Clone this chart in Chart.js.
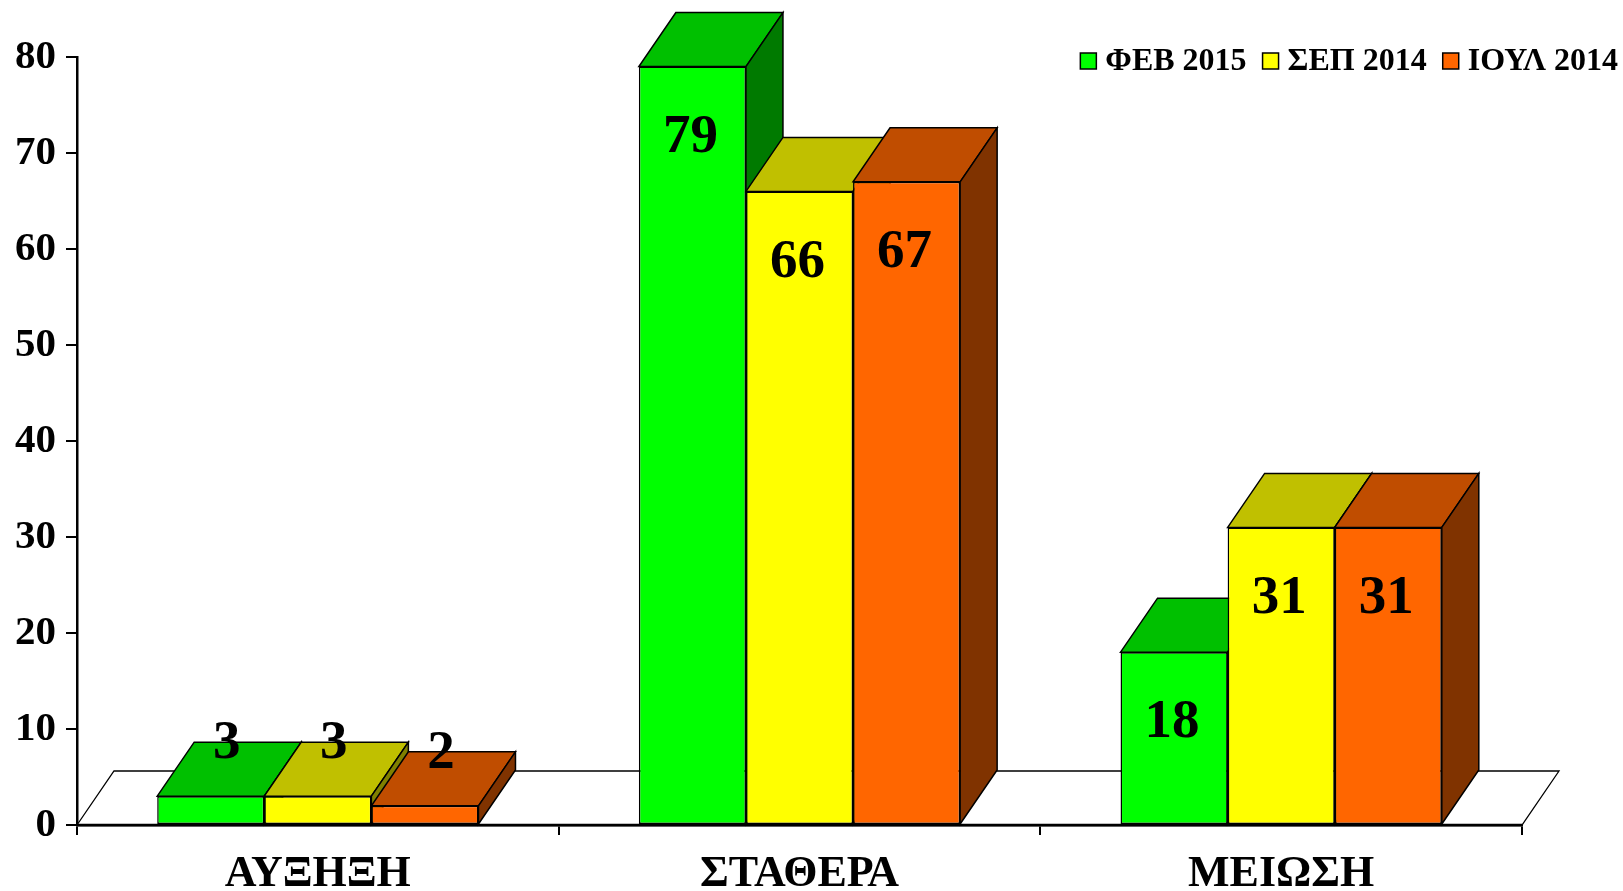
<!DOCTYPE html>
<html>
<head>
<meta charset="utf-8">
<script src="https://cdn.jsdelivr.net/npm/chart.js@4.4.0/dist/chart.umd.min.js"></script>
<style>
body{margin:0;background:#fff;}
#grafica{display:block;}
</style>
</head>
<body>
<canvas id="grafica" width="1623" height="891"></canvas>
<script>
var categorias = ["ΑΥΞΗΞΗ","ΣΤΑΘΕΡΑ","ΜΕΙΩΣΗ"];
var series = ["ΦΕΒ 2015","ΣΕΠ 2014","ΙΟΥΛ 2014"];
var feb2015 = [3,79,18];
var sep2014 = [3,66,31];
var ioul2014 = [2,67,31];
var ticksY = [0,10,20,30,40,50,60,70,80];

// frente, tapa, lado
var colores = [
    ["#00ff00","#00c000","#007a00"],
    ["#ffff00","#c0c000","#808000"],
    ["#ff6600","#c04d00","#803300"]
];

var FUENTE = "'Liberation Serif','Times New Roman',serif";
var PX = 37, PY = 54;   // profundidad 3D

document.addEventListener("DOMContentLoaded",function(){
    grafica();
});

function cara(ctx, puntos, color){
    ctx.beginPath();
    ctx.moveTo(puntos[0][0],puntos[0][1]);
    for (var i=1;i<puntos.length;i++) ctx.lineTo(puntos[i][0],puntos[i][1]);
    ctx.closePath();
    ctx.fillStyle = color;
    ctx.fill();
    ctx.stroke();
}

var caja3d = {
    id: "caja3d",
    beforeDatasetsDraw: function(chart){
        var ctx = chart.ctx, a = chart.chartArea;
        ctx.save();
        ctx.strokeStyle = "#000";
        ctx.lineJoin = "miter";
        // suelo
        ctx.lineWidth = 1.3;
        cara(ctx, [[a.left,a.bottom],[a.right,a.bottom],[a.right+PX,a.bottom-PY],[a.left+PX,a.bottom-PY]], "#fff");
        ctx.lineWidth = 2.5;
        ctx.beginPath();
        ctx.moveTo(a.left,a.bottom);
        ctx.lineTo(a.right,a.bottom);
        ctx.stroke();

        // tapas y lados, de izquierda a derecha
        ctx.lineWidth = 1.5;
        for (var i=0;i<categorias.length;i++){
            for (var d=0;d<chart.data.datasets.length;d++){
                var b = chart.getDatasetMeta(d).data[i];
                var l = b.x - b.width/2, r = b.x + b.width/2, t = b.y, base = b.base;
                cara(ctx, [[l,t],[r,t],[r+PX,t-PY],[l+PX,t-PY]], colores[d][1]);
                cara(ctx, [[r,t],[r+PX,t-PY],[r+PX,base-PY],[r,base]], colores[d][2]);
            }
        }
        ctx.restore();
    },
    afterDatasetsDraw: function(chart){
        var ctx = chart.ctx;
        ctx.save();
        ctx.fillStyle = "#000";
        ctx.font = "bold 55px " + FUENTE;
        ctx.textAlign = "center";
        ctx.textBaseline = "middle";
        for (var d=0;d<chart.data.datasets.length;d++){
            var meta = chart.getDatasetMeta(d);
            meta.data.forEach(function(b,i){
                var v = chart.data.datasets[d].data[i];
                var dentro = (b.base - b.y) > 100;
                var x = dentro ? b.x - 2 : b.x + 16;
                var y = dentro ? b.y + 71 : b.y - 52;
                ctx.fillText(String(v), x, y);
            });
        }
        ctx.restore();
    },
    afterDraw: function(chart){
        // leyenda
        var ctx = chart.ctx;
        ctx.save();
        ctx.font = "bold 32px " + FUENTE;
        ctx.textBaseline = "middle";
        ctx.textAlign = "left";
        var caja = 16, hueco = 9, sep = 16, total = 0;
        series.forEach(function(s,i){
            total += caja + hueco + ctx.measureText(s).width + (i>0 ? sep : 0);
        });
        var x = 1618 - total, y = 61;
        series.forEach(function(s,i){
            ctx.fillStyle = colores[i][0];
            ctx.fillRect(x, y-caja/2, caja, caja);
            ctx.lineWidth = 1.5;
            ctx.strokeStyle = "#000";
            ctx.strokeRect(x, y-caja/2, caja, caja);
            ctx.fillStyle = "#000";
            ctx.fillText(s, x+caja+hueco, y+1);
            x += caja + hueco + ctx.measureText(s).width + sep;
        });
        ctx.restore();
    }
};

function grafica(){
    let miCanvas = document.getElementById("grafica").getContext("2d");

    var chart = new Chart(miCanvas,{
        type: "bar",
        data: {
            labels: categorias,
            datasets: [{
                label: series[0],
                data: feb2015,
                backgroundColor: colores[0][0]
            },{
                label: series[1],
                data: sep2014,
                backgroundColor: colores[1][0]
            },{
                label: series[2],
                data: ioul2014,
                backgroundColor: colores[2][0]
            }]
        },
        options: {
            responsive: false,
            animation: false,
            devicePixelRatio: 1,
            layout: { padding: { top: 57, right: 101, left: 0, bottom: 0 } },
            datasets: {
                bar: {
                    categoryPercentage: 0.667,
                    barPercentage: 1.0,
                    borderColor: "#000",
                    borderWidth: 1.5,
                    borderSkipped: false
                }
            },
            plugins: {
                legend: { display: false },
                tooltip: { enabled: false }
            },
            scales: {
                x: {
                    afterFit: function(s){ s.height = 66; },
                    grid: { offset: true, drawOnChartArea: false, tickLength: 10, color: "#000", lineWidth: 2 },
                    border: { display: true, color: "#000", width: 2.5 },
                    ticks: { color: "#000", padding: 13, font: { family: FUENTE, size: 44, weight: "bold" } }
                },
                y: {
                    min: 0,
                    max: 80,
                    afterFit: function(s){ s.width = 77; },
                    afterBuildTicks: function(s){ s.ticks = ticksY.map(function(v){ return {value: v}; }); },
                    grid: { drawOnChartArea: false, tickLength: 11, color: "#000", lineWidth: 2 },
                    border: { display: true, color: "#000", width: 2.5 },
                    ticks: { color: "#000", padding: 10, font: { family: FUENTE, size: 41, weight: "bold" } }
                }
            }
        },
        plugins: [caja3d]
    });
}
</script>
</body>
</html>
